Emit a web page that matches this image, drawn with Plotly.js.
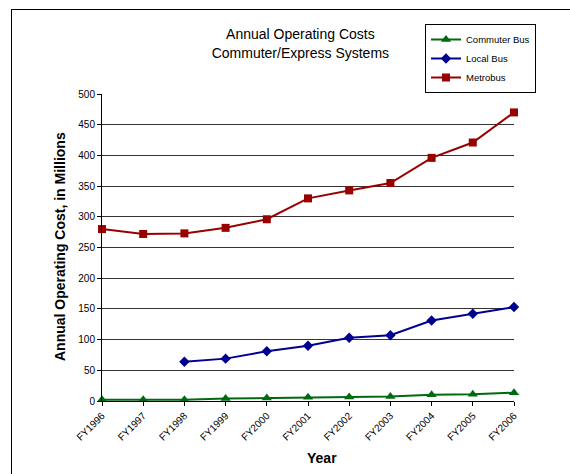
<!DOCTYPE html>
<html>
<head>
<meta charset="utf-8">
<script src="https://cdn.plot.ly/plotly-3.0.1.min.js"></script>
<style>
html,body{margin:0;padding:0;background:#fff;}
#wrap{position:relative;width:570px;height:474px;}
#frame{position:absolute;left:11px;top:9px;width:570px;height:474px;border-left:1px solid #000;border-top:1px solid #000;pointer-events:none;z-index:5;}
#chart{position:absolute;left:0;top:0;width:570px;height:474px;}
</style>
</head>
<body>
<div id="wrap"><div id="chart"></div><div id="frame"></div></div>
<script>
const years = ["FY1996","FY1997","FY1998","FY1999","FY2000","FY2001","FY2002","FY2003","FY2004","FY2005","FY2006"];
const commuterBus = [2, 2, 2, 4, 5, 6, 6.5, 7.5, 10, 11, 13.5];
const localBus = [null, null, 64, 69, 81, 90, 103, 107, 131, 142, 153];
const metrobus = [280, 272, 273, 282, 296, 330, 343, 355, 396, 421, 470];
const yTicks = [0,50,100,150,200,250,300,350,400,450,500];

const traces = [
  {x: years, y: commuterBus, name: "Commuter Bus", type: "scatter", mode: "lines+markers",
   line: {color: "#006a10", width: 2}, marker: {symbol: "triangle-up", size: 9, color: "#006a10"}, cliponaxis: false},
  {x: years, y: localBus, name: "Local Bus", type: "scatter", mode: "lines+markers",
   line: {color: "#000090", width: 2}, marker: {symbol: "diamond", size: 8, color: "#000090"}, cliponaxis: false},
  {x: years, y: metrobus, name: "Metrobus", type: "scatter", mode: "lines+markers",
   line: {color: "#990000", width: 2}, marker: {symbol: "square", size: 8, color: "#990000"}, cliponaxis: false}
];

const layout = {
  width: 570, height: 474,
  margin: {l: 102, r: 56, t: 94, b: 73},
  paper_bgcolor: "#fff", plot_bgcolor: "#fff",
  font: {family: "Liberation Sans, Arial, sans-serif", color: "#000"},
  title: {text: "Annual Operating Costs<br>Commuter/Express Systems", font: {size: 14, color: "#000"},
          x: 0.527, xanchor: "center", y: 0.917, yanchor: "top"},
  xaxis: {type: "category", categoryorder: "array", categoryarray: years, range: [0, 10],
          showgrid: false, showline: true, linecolor: "#000", linewidth: 1,
          ticks: "outside", ticklen: 4, tickcolor: "#000", tickangle: -45,
          tickfont: {size: 10, color: "#000"}, zeroline: false},
  yaxis: {range: [0, 500], tickvals: yTicks, showgrid: true, gridcolor: "#333", gridwidth: 1,
          showline: true, linecolor: "#000", linewidth: 1, ticks: "outside", ticklen: 4, tickcolor: "#000",
          tickfont: {size: 10, color: "#000"}, zeroline: false},
  annotations: [
    {text: "<b>Year</b>", xref: "paper", yref: "paper", x: (322-102)/412, y: (401-458)/307,
     xanchor: "center", yanchor: "middle", showarrow: false, font: {size: 14, color: "#000"}},
    {text: "<b>Annual Operating Cost, in Millions</b>", xref: "paper", yref: "paper",
     x: (60-102)/412, y: (401-247)/307, textangle: -90,
     xanchor: "center", yanchor: "middle", showarrow: false, font: {size: 14, color: "#000"}}
  ],
  legend: {x: (425-102)/412, y: (401-24)/307, xanchor: "left", yanchor: "top", bgcolor: "#fff",
           bordercolor: "#000", borderwidth: 1, font: {size: 9.5, color: "#000"},
           tracegroupgap: 0, itemwidth: 30},
  showlegend: true
};

Plotly.newPlot("chart", traces, layout, {displayModeBar: false, staticPlot: true});
</script>
</body>
</html>
